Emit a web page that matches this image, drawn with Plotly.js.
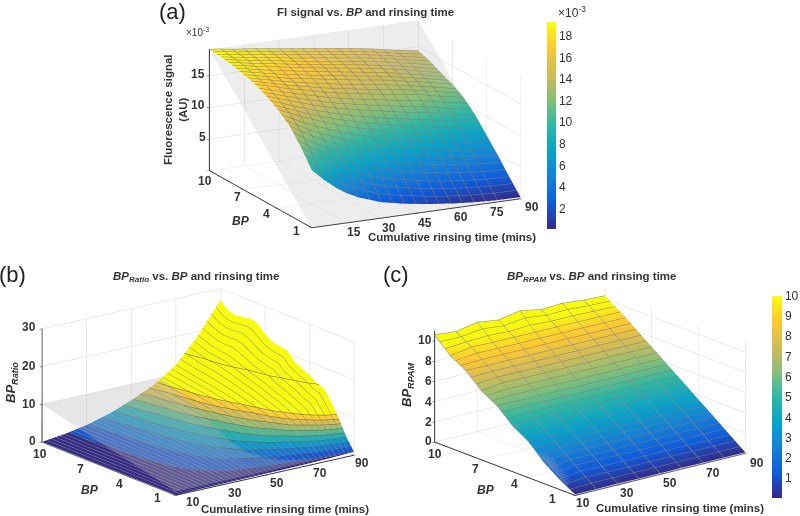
<!DOCTYPE html>
<html><head><meta charset="utf-8">
<script src="https://cdn.plot.ly/plotly-3.0.1.min.js"></script>
<style>html,body{margin:0;padding:0;background:#fff}#g{width:800px;height:516px}</style></head>
<body><div id="g"></div>
<script>
const bpValues=[1,2,3,4,5,6,7,8,9,10];
const bpValuesB=[1,1.5,2,2.5,3,3.5,4,4.5,5,5.5,6,6.5,7,7.5,8,8.5,9,9.5,10];
const timeA=[0,5,10,15,20,30,40,50,60,70,80,90];
const timeBC=[10,20,30,40,50,60,70,80,90];
const planeTimeA=[0,90];
const planeTimeBC=[10,90];
const planeBP=[1,10];
const signalA=[
[9.1,7.4,5.9,4.7,3.8,2.5,1.75,1.2,.75,.45,.28,.25],
[11.9,10.5,9.3,8.2,7.3,5.7,4.7,3.9,3.3,2.9,2.6,2.5],
[14.2,13.1,12,11.1,10.3,8.9,7.8,7,6.3,5.7,5.2,4.9],
[15.7,14.9,14.1,13.4,12.7,11.5,10.5,9.6,8.9,8.2,7.6,7.1],
[16.8,16.2,15.6,15,14.4,13.4,12.6,11.9,11.2,10.6,9.9,9.3],
[17.7,17.2,16.7,16.2,15.8,14.9,14.2,13.6,13,12.5,11.7,11],
[18.2,17.8,17.4,17,16.6,16,15.4,14.8,14.3,13.6,12.9,12.1],
[18.7,18.4,18,17.7,17.4,16.8,16.2,15.7,15.1,14.5,13.7,12.9],
[19,18.7,18.4,18.1,17.9,17.3,16.8,16.3,15.8,15.2,14.5,13.8],
[19.2,19,18.7,18.5,18.3,17.8,17.3,16.8,16.3,15.7,15,14.4]];
const planeA=[[0,0],[19.2,19.2]];
const ratioB=[
[.1,.2,.25,.3,.35,.4,.5,.65,.9],
[.1,.3,.5,.65,.9,1.2,1.7,2.7,4],
[.1,.4,.7,1,1.4,2,3,5,8],
[.1,.45,.85,1.3,1.9,2.8,4.2,7,11.5],
[.1,.5,1,1.6,2.5,3.7,5.5,9,14.5],
[.1,.55,1.1,1.85,2.85,4.3,6.4,10,15.2],
[.1,.6,1.2,2.1,3.2,4.9,7.2,11,16.5],
[.1,.6,1.3,2.25,3.5,5.3,7.8,11.8,17.5],
[.1,.6,1.4,2.4,3.8,5.7,8.3,12.5,18.5],
[.1,.65,1.45,2.55,4.05,6.05,8.9,13.4,20.8],
[.1,.7,1.5,2.7,4.3,6.4,9.4,14,21],
[.1,.7,1.55,2.8,4.5,6.8,9.9,14.7,21.4],
[.1,.7,1.6,2.9,4.7,7.1,10.3,15.5,22.8],
[.1,.7,1.65,3,4.85,7.4,10.7,16.3,24.7],
[.1,.7,1.7,3.1,5,7.6,11,17,25.3],
[.1,.75,1.75,3.2,5.2,7.8,11.4,17.2,24.8],
[.1,.8,1.8,3.3,5.4,8,11.7,17.5,24.6],
[.1,.8,1.85,3.4,5.6,8.3,12.1,18.3,25.1],
[.1,.8,1.9,3.5,5.8,8.5,12.5,19,27]];
const planeB=[[1,1],[10,10]];
const rpamC=[
[.1,.1,.12,.1,.1,.12,.1,.1,.1],
[1.0,1.3,1.25,1.25,1.22,1.25,1.25,1.22,1.25],
[2.1,2.45,2.42,2.4,2.42,2.4,2.42,2.4,2.42],
[3.6,3.6,3.58,3.56,3.58,3.56,3.58,3.56,3.56],
[4.5,4.78,4.74,4.72,4.72,4.74,4.72,4.72,4.72],
[5.95,5.9,5.88,5.9,5.86,5.88,5.86,5.88,5.86],
[6.8,7.1,7.06,7.04,7.04,7.02,7.04,7.02,7.02],
[8.25,8.2,8.22,8.18,8.2,8.18,8.18,8.16,8.16],
[9.1,9.45,9.4,9.38,9.36,9.36,9.34,9.32,9.3],
[10.6,10.4,10.8,10.5,10.9,10.5,10.6,10.4,10.3]];
const planeC=[[0,0],[10.3,10.3]];
const bpTicks=[1,4,7,10];
const timeTicksA=[15,30,45,60,75,90];
const timeTicksBC=[10,30,50,70,90];
const zTicksA=[5,10,15];
const zTicksB=[0,10,20,30];
const zTicksC=[0,2,4,6,8,10];
const barTicksA=[2,4,6,8,10,12,14,16,18];
const barTicksC=[1,2,3,4,5,6,7,8,9,10];

/* pixel places of the tick labels, in the same order as the tick lists above */
const labelPlaces=[
 [zTicksA,[[202,137],[198,105],[198,74]]],
 [bpTicks,[[296,231],[266,214],[237,197],[205,181]]],
 [timeTicksA,[[354,232],[389,228],[425,223],[461,217],[497,212],[532,207]]],
 [zTicksB,[[32,441],[29,404],[29,366],[29,327]]],
 [bpTicks,[[157,498],[119,484],[80,469],[40,454]]],
 [timeTicksBC,[[193,502],[235,493],[277,483],[320,473],[362,463]]],
 [zTicksC,[[428,441],[428,422],[428,402],[428,381],[428,361],[425,340]]],
 [bpTicks,[[552,499],[514,484],[475,469],[435,454]]],
 [timeTicksBC,[[583,503],[627,493],[670,483],[713,473],[757,463]]]
];

const parulaHex=['#352A87','#0F5CDD','#1481D6','#06A4CA','#2EB7A4','#87BF77','#D1BB59','#FEC832','#F9FB0E'];
const parula=parulaHex.map((c,i)=>[i/(parulaHex.length-1),c]);
function sampleParula(f){const p=f*(parulaHex.length-1),i=Math.min(Math.floor(p),parulaHex.length-2),k=p-i;
 const h=s=>[1,3,5].map(j=>parseInt(s.substr(j,2),16));const a=h(parulaHex[i]),b=h(parulaHex[i+1]);
 return 'rgb('+a.map((v,j)=>Math.round(v+(b[j]-v)*k)).join(',')+')';}
const steps=10,stepped=[];
for(let i=0;i<steps;i++){const c=sampleParula(i/(steps-1));stepped.push([i/steps,c],[(i+1)/steps,c]);}

const flat={ambient:1,diffuse:0,specular:0,roughness:1,fresnel:0};
const txt='#333333',face='"Liberation Sans",Arial,sans-serif';
function axis(tv,range){return {title:{text:''},range:range,tickvals:tv,showticklabels:false,showbackground:false,
 gridcolor:'#d9d9d9',gridwidth:1,showline:true,linecolor:'#333',linewidth:2,ticks:'outside',ticklen:3,tickcolor:'#333',
 zeroline:false,showspikes:false};}
function scene(dom,eye,asp,xr,xt,yr,zr,zt){const W=800,H=516;return {
 domain:{x:[dom[0]/W,dom[1]/W],y:[dom[2]/H,dom[3]/H]},bgcolor:'rgba(0,0,0,0)',
 camera:{eye:{x:eye[0],y:eye[1],z:eye[2]},up:{x:0,y:0,z:1},center:{x:0,y:0,z:0},projection:{type:'orthographic'}},
 aspectmode:'manual',aspectratio:{x:asp[0],y:asp[1],z:asp[2]},
 xaxis:axis(xt,xr),yaxis:axis(bpTicks,yr),zaxis:axis(zt,zr)};}
function gray(x,z,sc,op){return {type:'surface',x:x,y:planeBP,z:z,scene:sc,showscale:false,opacity:op,
 colorscale:[[0,'#b5b5b5'],[1,'#b5b5b5']],lighting:flat,hoverinfo:'skip',contours:{x:{show:false},y:{show:false},z:{show:false}}};}
const lineC='#7d7d7d';
const data=[
{type:'surface',x:timeA,y:bpValues,z:signalA,scene:'scene',colorscale:parula,cmin:.1,cmax:19.3,lighting:flat,hoverinfo:'skip',
 contours:{x:{show:true,start:5,end:85,size:5,color:lineC,width:1},y:{show:true,start:1,end:10,size:0.3333,color:lineC,width:1},z:{show:false}},
 colorbar:{x:547/800,xanchor:'left',y:1-125.5/516,yanchor:'middle',len:207/516,thickness:9,xpad:0,ypad:0,outlinewidth:0,tickvals:barTicksA,ticktext:barTicksA.map(String),ticks:'',tickfont:{family:face,size:12,color:txt}}},
gray(planeTimeA,planeA,'scene',.24),
{type:'surface',x:timeBC,y:bpValuesB,z:ratioB,scene:'scene2',colorscale:stepped,cmin:0,cmax:10,showscale:false,lighting:flat,hoverinfo:'skip',
 contours:{x:{show:true,start:10,end:90,size:2,color:'#8c8c8c',width:1},y:{show:false},z:{show:true,start:1,end:10,size:1,color:'#5c5c5c',width:1}}},
{type:'surface',x:timeBC,y:bpValuesB,z:ratioB,scene:'scene2',hidesurface:true,showscale:false,hoverinfo:'skip',
 contours:{x:{show:false},y:{show:false},z:{show:true,start:15,end:20,size:5,color:'#5c5c5c',width:1}}},
gray(planeTimeBC,planeB,'scene2',.34),
{type:'surface',x:timeBC,y:bpValues,z:rpamC,scene:'scene3',colorscale:parula,cmin:.05,cmax:10,lighting:flat,hoverinfo:'skip',
 contours:{x:{show:true,start:10,end:90,size:10,color:'#909090',width:1},y:{show:true,start:1,end:10,size:0.3333,color:lineC,width:1},z:{show:false}},
 colorbar:{x:772/800,xanchor:'left',y:1-396.5/516,yanchor:'middle',len:202/516,thickness:10,xpad:0,ypad:0,outlinewidth:0,tickvals:barTicksC,ticktext:barTicksC.map(String),ticks:'',tickfont:{family:face,size:12,color:txt}}},
gray(planeTimeBC,planeC,'scene3',.34)
];
function note(text,x,y,size,extra){return Object.assign({text:text,x:x/800,y:1-y/516,xref:'paper',yref:'paper',xanchor:'center',yanchor:'middle',showarrow:false,
 font:{family:face,size:size,color:txt}},extra||{});}
const timeLabel='<b>Cumulative rinsing time (mins)</b>',bpLabel='<b><i>BP</i></b>';
const annotations=[
note('(a)',172,11,22,{font:{family:face,size:22,color:'#222'}}),
note('(b)',12,274,22,{font:{family:face,size:22,color:'#222'}}),
note('(c)',396,274,22,{font:{family:face,size:22,color:'#222'}}),
note('<b>Fl signal vs. <i>BP</i> and rinsing time</b>',365,12,11.5),
note('<b><i>BP<sub>Ratio</sub></i> vs. <i>BP</i> and rinsing time</b>',196,277,11.5),
note('<b><i>BP<sub>RPAM</sub></i> vs. <i>BP</i> and rinsing time</b>',591,277,11.5),
note(timeLabel,452,237,11.5),note(timeLabel,285,509,11.5),note(timeLabel,680,508,11.5),
note(bpLabel,241,221,12),note(bpLabel,90,490,12),note(bpLabel,486,490,12),
note('<b>Fluorescence signal<br>(AU)</b>',176,110,11.5,{textangle:-90}),
note('<b><i>BP<sub>Ratio</sub></i></b>',11,383,13,{textangle:-90}),
note('<b><i>BP<sub>RPAM</sub></i></b>',407,385,13,{textangle:-90}),
note('×10<sup>-3</sup>',197,32,10),
note('×10<sup>-3</sup>',572,12,12)
];
labelPlaces.forEach(([ticks,places])=>ticks.forEach((t,i)=>annotations.push(note('<b>'+t+'</b>',places[i][0],places[i][1],12))));
const D=5;
const layout={width:800,height:516,margin:{l:0,r:0,t:0,b:0},paper_bgcolor:'#fff',showlegend:false,annotations:annotations,
 scene:scene([165,565,272.5,512.5],[-.430*D,-.862*D,.279*D],[1.945,1.91,1.053],[0,90],timeTicksA,[1,10],[0,19.2],zTicksA),
 scene2:scene([2.5,392.5,4,244],[-.573*D,-.763*D,.299*D],[1.86,1.853,.99],[10,90],timeTicksBC,[1,10],[0,30],zTicksB),
 scene3:scene([395,785,4,244],[-.597*D,-.741*D,.306*D],[1.823,1.865,.975],[10,90],timeTicksBC,[1,10],[0,11],zTicksC)};
Plotly.newPlot('g',data,layout,{displayModeBar:false});
</script></body></html>
